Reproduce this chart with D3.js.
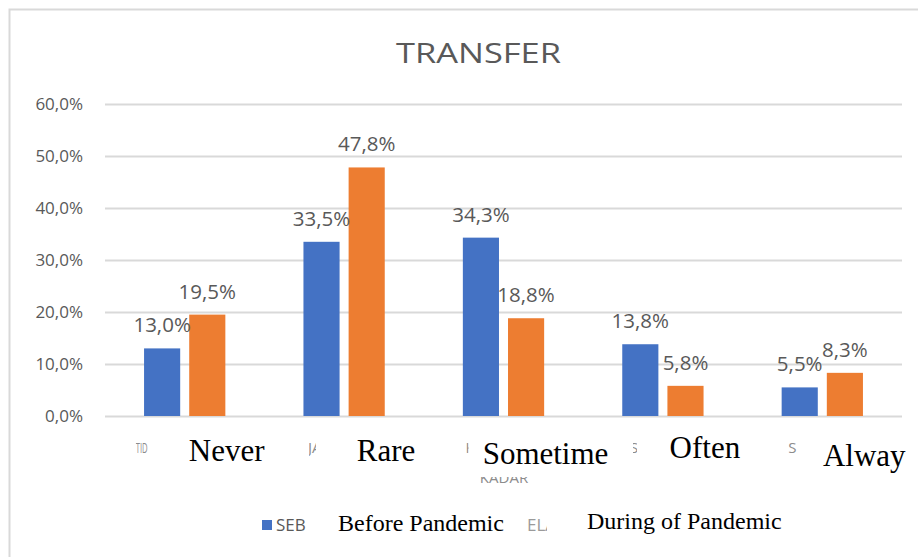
<!DOCTYPE html>
<html>
<head>
<meta charset="utf-8">
<script src="https://cdn.jsdelivr.net/npm/d3@7"></script>
<style>
  body { margin: 0; background: #fff; }
  .tick_lbl { font-family: "Open Sans", sans-serif; font-size: 17px; fill: #595959; }
  .val_lbl { font-family: "Open Sans", sans-serif; font-size: 20.5px; fill: #595959; }
  .excel_lbl { font-family: "Open Sans", sans-serif; font-size: 15px; fill: #8c8c8c; }
  .times_lbl { font-family: "Liberation Serif", "Times New Roman", serif; fill: #000; }
</style>
</head>
<body>
<svg id="chart"></svg>
<script>
// values
var categories = ["TIDAK PERNAH", "JARANG", "KADANG", "SERING", "SELALU"];
// the bits of the original labels that still show under the pasted text
var category_bits = ["TID", "JA", "K", "S", "S"];
var overlay_labels = ["Never", "Rare", "Sometime", "Often", "Alway"];
var series = ["SEBELUM PANDEMI", "SELAMA PANDEMI"];
var series_bits = ["SEB", "ELA"];
var series_labels = ["Before Pandemic", "During of Pandemic"];
var before_values = [0.130, 0.335, 0.343, 0.138, 0.055];
var during_values = [0.195, 0.478, 0.188, 0.058, 0.083];
var y_ticks = [0, 0.1, 0.2, 0.3, 0.4, 0.5, 0.6];

var W = 918, H = 557;
var colors = ["#4472C4", "#ED7D31"];
var pct = function (d) { return d3.format(".1f")(d * 100).replace(".", ",") + "%"; };

var svg = d3.select("#chart").attr("width", W).attr("height", H);
var defs = svg.append("defs");

// chart frame
svg.append("rect")
  .attr("x", 9.5).attr("y", 9.5)
  .attr("width", 1000).attr("height", 1000)
  .style("fill", "none").style("stroke", "#d9d9d9").style("stroke-width", 2);

svg.append("text")
  .attr("x", 396).attr("y", 63)
  .attr("textLength", 165).attr("lengthAdjust", "spacingAndGlyphs")
  .style("font-family", "Open Sans, sans-serif")
  .style("font-size", "27px")
  .style("fill", "#595959")
  .text("TRANSFER");

var x = d3.scaleBand().domain(categories).range([105, 902]).paddingInner(0.49).paddingOuter(0.245);
var xs = d3.scaleBand().domain(series).range([0, x.bandwidth()]).paddingInner(0.2);
var y = d3.scaleLinear().domain([0, 0.6]).range([416, 104]);

// gridlines + y labels
var yAxis = d3.axisLeft(y).tickValues(y_ticks).tickSize(-(902 - 105)).tickFormat(pct);
var gy = svg.append("g").attr("transform", "translate(105,0)").call(yAxis);
gy.select(".domain").remove();
gy.selectAll(".tick line").style("stroke", "#d9d9d9").style("stroke-width", 2);
gy.selectAll(".tick text").attr("class", "tick_lbl").attr("x", -22);

// bars
var rows = categories.map(function (c, i) {
  return {cat: c, vals: [{s: series[0], v: before_values[i]}, {s: series[1], v: during_values[i]}]};
});
var groups = svg.selectAll(".grp").data(rows).enter().append("g")
  .attr("transform", function (d) { return "translate(" + x(d.cat) + ",0)"; });
groups.selectAll("rect").data(function (d) { return d.vals; }).enter().append("rect")
  .attr("x", function (d) { return xs(d.s); })
  .attr("y", function (d) { return y(d.v); })
  .attr("width", xs.bandwidth())
  .attr("height", function (d) { return y(0) - y(d.v); })
  .style("fill", function (d, i) { return colors[i]; });
groups.selectAll(".val").data(function (d) { return d.vals; }).enter().append("text")
  .attr("class", "val_lbl")
  .attr("x", function (d) { return xs(d.s) + xs.bandwidth() / 2; })
  .attr("y", function (d) { return y(d.v) - 16; })
  .attr("text-anchor", "middle")
  .text(function (d) { return pct(d.v); });

// leftovers of the original excel labels (the rest is pasted over)
var bit_start = [-49, -36, -38, -33, -34];
var clip_l = [-49, -35, -38, -30, -34];
var clip_r = [-36, -28, -35, -26, -24];
categories.forEach(function (c, i) {
  var cx = x(c) + x.bandwidth() / 2;
  defs.append("clipPath").attr("id", "bit" + i).append("rect")
    .attr("x", cx + clip_l[i]).attr("y", 430).attr("width", clip_r[i] - clip_l[i]).attr("height", 30);
  var t = svg.append("text").attr("class", "excel_lbl")
    .attr("clip-path", "url(#bit" + i + ")")
    .attr("x", cx + bit_start[i]).attr("y", 453)
    .text(category_bits[i]);
  if (i == 0) t.attr("textLength", 12).attr("lengthAdjust", "spacingAndGlyphs");
});
// bottom sliver of the axis title
defs.append("clipPath").attr("id", "ttl").append("rect")
  .attr("x", 470).attr("y", 477).attr("width", 80).attr("height", 10);
svg.append("text").attr("class", "excel_lbl").attr("clip-path", "url(#ttl)")
  .attr("x", 504).attr("y", 483).attr("text-anchor", "middle").text("KADAR");

// pasted-over english labels
var lbl_y = [461, 461, 464, 458, 466];
categories.forEach(function (c, i) {
  var cx = x(c) + x.bandwidth() / 2;
  svg.append("text").attr("class", "times_lbl")
    .attr("x", cx + 42).attr("y", lbl_y[i])
    .attr("text-anchor", "middle")
    .style("font-size", "31px")
    .text(overlay_labels[i]);
});

// legend
var leg = svg.append("g");
leg.append("rect").attr("x", 262).attr("y", 520).attr("width", 10).attr("height", 10).style("fill", colors[0]);
leg.append("text").attr("class", "excel_lbl").style("font-size", "17px").style("fill", "#595959")
  .attr("x", 276).attr("y", 531).text(series_bits[0]);
defs.append("clipPath").attr("id", "legbit").append("rect")
  .attr("x", 526).attr("y", 510).attr("width", 21).attr("height", 30);
leg.append("text").attr("class", "excel_lbl").style("font-size", "17px").style("fill", "#9a9a9a")
  .attr("clip-path", "url(#legbit)")
  .attr("x", 527).attr("y", 531).text(series_bits[1]);
leg.append("text").attr("class", "times_lbl").style("font-size", "24px")
  .attr("x", 338).attr("y", 531).text(series_labels[0]);
leg.append("text").attr("class", "times_lbl").style("font-size", "24px")
  .attr("x", 587).attr("y", 529).text(series_labels[1]);
</script>
</body>
</html>
